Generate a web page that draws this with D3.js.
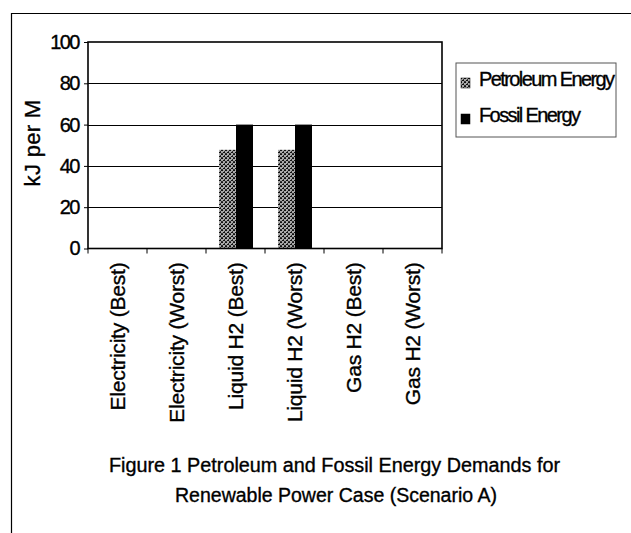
<!DOCTYPE html>
<html>
<head>
<meta charset="utf-8">
<script src="https://cdn.jsdelivr.net/npm/d3@7"></script>
<style>
  body { margin: 0; background: #fff; }
  svg text { font-family: Arial, "Liberation Sans", sans-serif; fill: #000; stroke: #000; stroke-width: 0.35; }
</style>
</head>
<body>
<svg id="vis-svg" width="631" height="533"></svg>
<script>
var width  = 631;
var height = 533;
var margin = { top: 42, left: 88, right: 189, bottom: 285 };

// data
const categories = ["Electricity (Best)", "Electricity (Worst)", "Liquid H2 (Best)",
                    "Liquid H2 (Worst)", "Gas H2 (Best)", "Gas H2 (Worst)"];
const seriesNames = ["Petroleum Energy", "Fossil Energy"];
const petroleum = [0, 0, 47.8, 47.8, 0, 0];
const fossil    = [0, 0, 60, 60, 0, 0];
const yTicks = [0, 20, 40, 60, 80, 100];
const captionLines = ["Figure 1  Petroleum and Fossil Energy Demands for",
                      "Renewable Power Case (Scenario A)"];

const graphWidth = width - margin.left - margin.right;   // 354
const graphHeight = 248.5 - margin.top;

const svg = d3.select("#vis-svg");

// stipple pattern for the petroleum bars
const defs = svg.append("defs");
const pat = defs.append("pattern").attr("id", "stipple")
  .attr("width", 4).attr("height", 4).attr("patternUnits", "userSpaceOnUse");
pat.append("rect").attr("width", 4).attr("height", 4).attr("fill", "#a8a8a8");
[[0,0],[2,1],[1,2],[3,3],[3,0],[0,3],[2,2]].forEach(function(p, k) {
  pat.append("rect").attr("x", p[0]).attr("y", p[1]).attr("width", 1).attr("height", 1)
    .attr("fill", k % 2 ? "#333" : "#111");
});

const fills = ["url(#stipple)", "#000"];

// outer frame (scanned page border)
svg.append("line").attr("x1", 11).attr("x2", 631).attr("y1", 13.5).attr("y2", 13.5)
  .attr("stroke", "#000").attr("stroke-width", 1.2);
svg.append("line").attr("x1", 11.5).attr("x2", 11.5).attr("y1", 13).attr("y2", 533)
  .attr("stroke", "#000").attr("stroke-width", 1.2);

const graph = svg.append("g").attr("transform", `translate(${margin.left},${margin.top})`);

const x = d3.scaleBand().domain(categories).range([0, graphWidth]).padding(0);
const xs = d3.scaleBand().domain(seriesNames).range([13, x.bandwidth() - 12]).padding(0);
const y = d3.scaleLinear().domain([0, 100]).range([graphHeight, 0]);

// gridlines
graph.selectAll(".grid").data(yTicks.filter(d => d > 0 && d < 100)).enter()
  .append("line")
  .attr("x1", 0).attr("x2", graphWidth)
  .attr("y1", d => Math.round(y(d)) + 0.5).attr("y2", d => Math.round(y(d)) + 0.5)
  .attr("stroke", "#000").attr("stroke-width", 1.2);

// bars
const rows = categories.map((c, i) => ({ cat: c, vals: [petroleum[i], fossil[i]] }));
const groups = graph.selectAll(".grp").data(rows).enter()
  .append("g").attr("transform", d => `translate(${x(d.cat)},0)`);
groups.selectAll("rect").data(d => d.vals.map((v, j) => ({ name: seriesNames[j], v: v, j: j })))
  .enter().append("rect")
  .attr("x", d => xs(d.name))
  .attr("width", xs.bandwidth())
  .attr("y", d => y(d.v))
  .attr("height", d => graphHeight - y(d.v))
  .attr("fill", d => fills[d.j]);

// plot border
graph.append("rect").attr("x", 0).attr("y", 0).attr("width", graphWidth).attr("height", graphHeight)
  .attr("fill", "none").attr("stroke", "#000").attr("stroke-width", 1.6);

// y axis
const yAxis = graph.append("g").call(d3.axisLeft(y).tickValues(yTicks).tickSize(4).tickPadding(5));
yAxis.select(".domain").remove();
yAxis.selectAll("line").attr("stroke", "#000");
yAxis.selectAll("text").attr("font-size", 20).attr("letter-spacing", -1.5)
  .attr("font-family", "Arial, 'Liberation Sans', sans-serif").attr("fill", "#000");

// x axis ticks at category boundaries
const xAxis = graph.append("g").attr("transform", `translate(0,${graphHeight})`);
xAxis.selectAll("line").data(categories.concat([null])).enter().append("line")
  .attr("x1", (d, i) => i * x.bandwidth()).attr("x2", (d, i) => i * x.bandwidth())
  .attr("y1", 0).attr("y2", 5).attr("stroke", "#000");
xAxis.selectAll("text").data(categories).enter().append("text")
  .attr("transform", d => `translate(${x(d) + x.bandwidth() / 2 + 7},14) rotate(-90)`)
  .attr("text-anchor", "end")
  .attr("font-size", 21)
  .attr("letter-spacing", -0.2)
  .text(d => d);

// y title
svg.append("text")
  .attr("transform", "translate(40,143) rotate(-90)")
  .attr("text-anchor", "middle")
  .attr("font-size", 22)
  .attr("letter-spacing", 0.3)
  .text("kJ per M");

// legend
const legend = svg.append("g").attr("transform", "translate(456,63)");
legend.append("rect").attr("width", 160).attr("height", 74)
  .attr("fill", "#fff").attr("stroke", "#555").attr("stroke-width", 1);
const li = legend.selectAll(".li").data(seriesNames).enter().append("g")
  .attr("transform", (d, i) => `translate(5,${23 + i * 36})`);
li.append("rect").attr("x", 0).attr("y", -8).attr("width", 9).attr("height", 10)
  .attr("fill", (d, i) => fills[i]).attr("stroke", "#000").attr("stroke-width", 0.5);
li.append("text").attr("x", 18).attr("y", 0)
  .attr("font-size", 20).attr("letter-spacing", -1.6)
  .text(d => d);

// caption
svg.selectAll(".cap").data(captionLines).enter().append("text")
  .attr("x", (d, i) => i ? 175 : 109).attr("y", (d, i) => 472 + i * 30)
  .attr("font-size", 20)
  .attr("textLength", (d, i) => i ? 322 : 451)
  .attr("lengthAdjust", "spacingAndGlyphs")
  .text(d => d);
</script>
</body>
</html>
